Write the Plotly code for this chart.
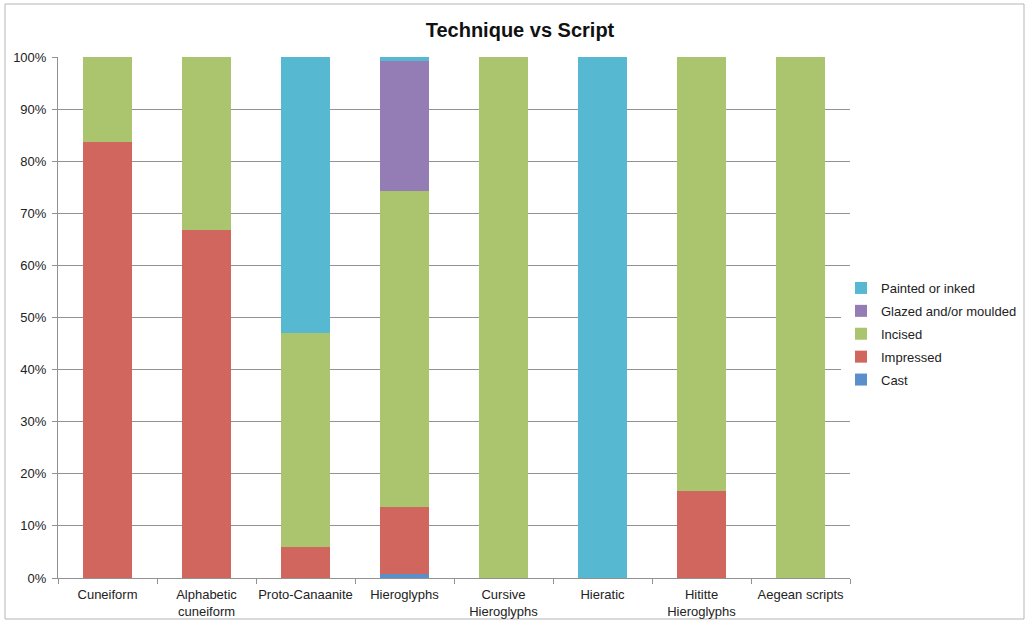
import plotly.graph_objects as go

scripts = ['Cuneiform', 'Alphabetic<br>cuneiform', 'Proto-Canaanite', 'Hieroglyphs',
           'Cursive<br>Hieroglyphs', 'Hieratic', 'Hititte<br>Hieroglyphs', 'Aegean scripts']

cast = [0, 0, 0, 0.8, 0, 0, 0, 0]
impressed = [83.7, 66.7, 5.9, 12.8, 0, 0, 16.7, 0]
incised = [16.3, 33.3, 41.2, 60.7, 100, 0, 83.3, 100]
glazed = [0, 0, 0, 24.9, 0, 0, 0, 0]
painted = [0, 0, 52.9, 0.8, 0, 100, 0, 0]

series = [
    ('Cast', cast, '#5B8FCB'),
    ('Impressed', impressed, '#D1665F'),
    ('Incised', incised, '#ABC46E'),
    ('Glazed and/or moulded', glazed, '#947DB5'),
    ('Painted or inked', painted, '#56B9D1'),
]

fig = go.Figure()
for i, (name, vals, color) in enumerate(series):
    fig.add_trace(go.Bar(
        x=scripts,
        y=[v / 100 for v in vals],
        name=name,
        legendgroup=name,
        legendrank=1000 - i,
        marker=dict(color=color, line=dict(width=0)),
    ))

W, H = 1029, 623
ml, mr, mt, mb = 58, 179, 57, 45
pw, ph = W - ml - mr, H - mt - mb

fig.update_layout(
    width=W, height=H,
    barmode='stack',
    bargap=0.5,
    plot_bgcolor='white',
    paper_bgcolor='white',
    font=dict(family='Liberation Sans, Arial', size=13, color='#222'),
    title=dict(text='<b>Technique vs Script</b>', x=(520 - ml) / pw, xref='paper',
               xanchor='center', y=1 - 30 / H, yanchor='middle',
               font=dict(size=20, color='#111')),
    margin=dict(l=ml, r=mr, t=mt, b=mb, autoexpand=False),
    legend=dict(traceorder='grouped', x=(841 - ml) / pw, y=(578 - 334) / ph,
                xanchor='left', yanchor='middle',
                font=dict(size=13, color='#222'), itemwidth=30, tracegroupgap=3),
    yaxis=dict(range=[0, 1], dtick=0.1, tickformat='.0%', showgrid=True,
               gridcolor='#929292', gridwidth=1, showline=True, linecolor='#929292',
               ticks='outside', ticklen=5, tickcolor='#929292', zeroline=False,
               tickfont=dict(size=13), ticklabelstandoff=3),
    xaxis=dict(showline=True, linecolor='#929292', ticks='outside', tickson='boundaries',
               ticklen=5, tickcolor='#929292', tickfont=dict(size=13), automargin=False,
               tickangle=0, ticklabelstandoff=4),
    shapes=[dict(type='rect', xref='paper', yref='paper',
                 x0=(5 - ml) / pw, x1=(1024 - ml) / pw,
                 y0=-(619 - (H - mb)) / ph, y1=1 + (mt - 4) / ph,
                 line=dict(color='#b5b5b5', width=1), layer='below')],
)

fig.write_html('out.html', config={'displayModeBar': False},
               post_script="document.body.style.margin='0';")
